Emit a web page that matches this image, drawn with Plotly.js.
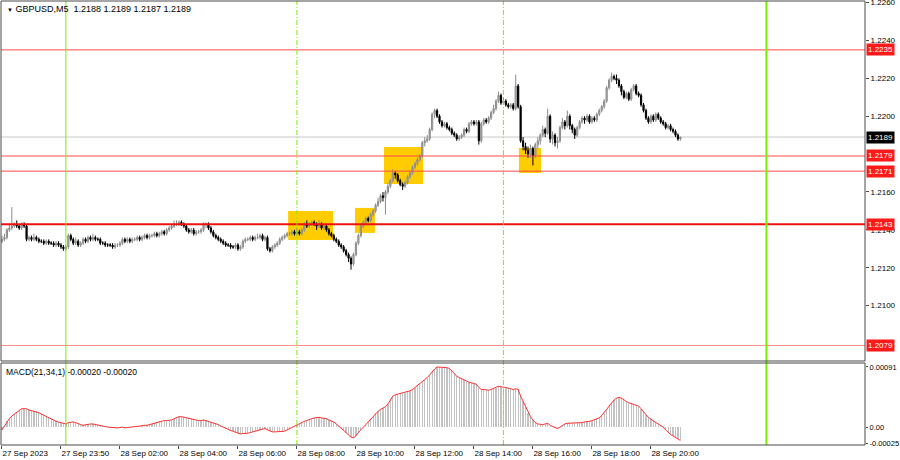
<!DOCTYPE html>
<html><head><meta charset="utf-8">
<script src="https://cdn.plot.ly/plotly-3.0.1.min.js"></script>
<style>html,body{margin:0;padding:0;background:#fff}#chart{width:900px;height:460px}</style>
</head><body><div id="chart"></div>
<script>
const symbol = 'GBPUSD,M5';

const openP = [
1.2134,1.2135,1.2136,1.2140,1.2141,1.2142,1.2143,1.2142,1.2141,1.2143,
1.2142,1.2135,1.2136,1.2135,1.2136,1.2135,1.2134,1.2134,1.2133,1.2134,
1.2133,1.2133,1.2132,1.2133,1.2132,1.2131,1.2130,1.2131,1.2137,1.2135,
1.2133,1.2134,1.2132,1.2133,1.2135,1.2134,1.2136,1.2135,1.2136,1.2135,
1.2135,1.2133,1.2133,1.2132,1.2132,1.2132,1.2131,1.2132,1.2132,1.2133,
1.2135,1.2134,1.2135,1.2134,1.2135,1.2135,1.2136,1.2135,1.2136,1.2137,
1.2136,1.2137,1.2137,1.2138,1.2137,1.2138,1.2139,1.2138,1.2140,1.2141,
1.2142,1.2143,1.2143,1.2144,1.2143,1.2142,1.2140,1.2139,1.2140,1.2138,
1.2139,1.2139,1.2140,1.2143,1.2143,1.2141,1.2139,1.2137,1.2136,1.2135,
1.2134,1.2133,1.2132,1.2132,1.2131,1.2131,1.2132,1.2130,1.2131,1.2134,
1.2135,1.2135,1.2136,1.2135,1.2136,1.2136,1.2137,1.2135,1.2136,1.2130,
1.2129,1.2131,1.2132,1.2133,1.2135,1.2136,1.2137,1.2138,1.2138,1.2139,
1.2138,1.2139,1.2138,1.2140,1.2143,1.2142,1.2143,1.2144,1.2143,1.2142,
1.2143,1.2141,1.2142,1.2140,1.2138,1.2137,1.2135,1.2134,1.2132,1.2131,
1.2129,1.2127,1.2125,1.2122,1.2127,1.2133,1.2137,1.2142,1.2144,1.2146,
1.2145,1.2148,1.2150,1.2153,1.2155,1.2158,1.2157,1.2160,1.2163,1.2166,
1.2170,1.2169,1.2166,1.2164,1.2163,1.2165,1.2168,1.2170,1.2173,1.2175,
1.2177,1.2179,1.2186,1.2187,1.2188,1.2193,1.2201,1.2203,1.2200,1.2197,
1.2195,1.2196,1.2194,1.2193,1.2191,1.2190,1.2188,1.2189,1.2190,1.2193,
1.2192,1.2196,1.2197,1.2196,1.2197,1.2187,1.2196,1.2198,1.2197,1.2199,
1.2202,1.2204,1.2208,1.2211,1.2207,1.2208,1.2206,1.2205,1.2206,1.2204,
1.2216,1.2205,1.2187,1.2184,1.2182,1.2180,1.2183,1.2179,1.2185,1.2187,
1.2190,1.2193,1.2191,1.2200,1.2188,1.2190,1.2186,1.2187,1.2194,1.2197,
1.2195,1.2200,1.2195,1.2193,1.2190,1.2194,1.2197,1.2199,1.2198,1.2200,
1.2197,1.2199,1.2198,1.2201,1.2203,1.2205,1.2208,1.2215,1.2219,1.2221,
1.2220,1.2219,1.2216,1.2213,1.2210,1.2212,1.2209,1.2214,1.2216,1.2212,
1.2211,1.2206,1.2203,1.2199,1.2197,1.2200,1.2198,1.2201,1.2199,1.2197,
1.2196,1.2194,1.2195,1.2193,1.2192,1.2190,1.2188];

const highP = [
1.2137,1.2138,1.2141,1.2143,1.2152,1.2144,1.2145,1.2143,1.2144,1.2144,
1.2143,1.2137,1.2137,1.2138,1.2137,1.2136,1.2135,1.2135,1.2135,1.2135,
1.2134,1.2134,1.2134,1.2134,1.2133,1.2132,1.2132,1.2138,1.2138,1.2136,
1.2136,1.2135,1.2134,1.2136,1.2136,1.2137,1.2137,1.2138,1.2137,1.2136,
1.2136,1.2134,1.2134,1.2133,1.2133,1.2133,1.2133,1.2133,1.2134,1.2136,
1.2136,1.2136,1.2136,1.2136,1.2136,1.2137,1.2137,1.2137,1.2138,1.2138,
1.2138,1.2138,1.2139,1.2139,1.2139,1.2140,1.2140,1.2141,1.2142,1.2143,
1.2145,1.2145,1.2145,1.2145,1.2144,1.2143,1.2141,1.2141,1.2141,1.2140,
1.2140,1.2141,1.2144,1.2144,1.2144,1.2142,1.2140,1.2138,1.2137,1.2136,
1.2135,1.2134,1.2133,1.2133,1.2132,1.2133,1.2133,1.2132,1.2135,1.2136,
1.2136,1.2137,1.2137,1.2137,1.2138,1.2138,1.2138,1.2137,1.2137,1.2131,
1.2132,1.2133,1.2134,1.2136,1.2137,1.2138,1.2139,1.2139,1.2140,1.2140,
1.2141,1.2140,1.2141,1.2144,1.2145,1.2144,1.2145,1.2145,1.2144,1.2145,
1.2144,1.2143,1.2143,1.2141,1.2139,1.2138,1.2136,1.2135,1.2133,1.2132,
1.2130,1.2128,1.2126,1.2128,1.2134,1.2138,1.2143,1.2145,1.2147,1.2147,
1.2149,1.2151,1.2154,1.2157,1.2159,1.2160,1.2161,1.2165,1.2167,1.2172,
1.2171,1.2170,1.2167,1.2165,1.2166,1.2169,1.2171,1.2174,1.2176,1.2178,
1.2180,1.2187,1.2189,1.2190,1.2194,1.2202,1.2204,1.2204,1.2201,1.2198,
1.2197,1.2197,1.2195,1.2194,1.2192,1.2191,1.2190,1.2191,1.2194,1.2194,
1.2197,1.2198,1.2198,1.2198,1.2198,1.2197,1.2199,1.2199,1.2200,1.2203,
1.2206,1.2209,1.2213,1.2212,1.2210,1.2209,1.2207,1.2207,1.2207,1.2222,
1.2217,1.2206,1.2189,1.2186,1.2184,1.2185,1.2184,1.2186,1.2189,1.2191,
1.2195,1.2194,1.2204,1.2201,1.2192,1.2191,1.2189,1.2195,1.2199,1.2198,
1.2203,1.2201,1.2196,1.2194,1.2195,1.2198,1.2200,1.2200,1.2201,1.2201,
1.2200,1.2200,1.2202,1.2204,1.2206,1.2209,1.2216,1.2220,1.2223,1.2222,
1.2222,1.2220,1.2217,1.2214,1.2213,1.2213,1.2215,1.2217,1.2217,1.2213,
1.2212,1.2207,1.2204,1.2200,1.2201,1.2201,1.2202,1.2202,1.2200,1.2198,
1.2197,1.2196,1.2196,1.2194,1.2193,1.2191,1.2189];

const lowP = [
1.2133,1.2134,1.2135,1.2139,1.2140,1.2141,1.2141,1.2140,1.2140,1.2141,
1.2134,1.2134,1.2134,1.2134,1.2134,1.2133,1.2133,1.2132,1.2132,1.2132,
1.2132,1.2131,1.2131,1.2131,1.2130,1.2129,1.2129,1.2130,1.2134,1.2132,
1.2132,1.2131,1.2131,1.2132,1.2133,1.2133,1.2134,1.2134,1.2134,1.2134,
1.2132,1.2132,1.2131,1.2131,1.2131,1.2130,1.2130,1.2131,1.2131,1.2132,
1.2133,1.2133,1.2133,1.2133,1.2134,1.2134,1.2134,1.2134,1.2135,1.2135,
1.2135,1.2136,1.2136,1.2136,1.2136,1.2137,1.2137,1.2137,1.2139,1.2140,
1.2141,1.2142,1.2142,1.2142,1.2141,1.2139,1.2138,1.2138,1.2137,1.2137,
1.2138,1.2138,1.2139,1.2141,1.2140,1.2138,1.2136,1.2135,1.2134,1.2133,
1.2132,1.2131,1.2131,1.2130,1.2130,1.2130,1.2129,1.2129,1.2130,1.2133,
1.2134,1.2134,1.2134,1.2134,1.2135,1.2135,1.2134,1.2134,1.2129,1.2128,
1.2128,1.2130,1.2131,1.2132,1.2134,1.2135,1.2136,1.2137,1.2137,1.2137,
1.2137,1.2137,1.2137,1.2139,1.2141,1.2141,1.2142,1.2142,1.2140,1.2141,
1.2140,1.2140,1.2139,1.2137,1.2136,1.2134,1.2133,1.2131,1.2130,1.2128,
1.2126,1.2123,1.2119,1.2121,1.2126,1.2132,1.2136,1.2141,1.2143,1.2144,
1.2144,1.2147,1.2149,1.2152,1.2154,1.2155,1.2148,1.2159,1.2162,1.2165,
1.2167,1.2165,1.2163,1.2161,1.2162,1.2164,1.2167,1.2169,1.2172,1.2174,
1.2176,1.2178,1.2184,1.2186,1.2187,1.2192,1.2199,1.2199,1.2196,1.2194,
1.2194,1.2193,1.2192,1.2190,1.2189,1.2187,1.2187,1.2188,1.2189,1.2191,
1.2191,1.2195,1.2195,1.2195,1.2185,1.2186,1.2195,1.2196,1.2196,1.2198,
1.2201,1.2203,1.2207,1.2206,1.2206,1.2205,1.2204,1.2204,1.2203,1.2203,
1.2204,1.2186,1.2182,1.2180,1.2178,1.2178,1.2174,1.2178,1.2183,1.2185,
1.2189,1.2189,1.2190,1.2186,1.2185,1.2184,1.2183,1.2186,1.2193,1.2193,
1.2194,1.2193,1.2191,1.2188,1.2189,1.2193,1.2196,1.2196,1.2197,1.2196,
1.2196,1.2197,1.2197,1.2200,1.2202,1.2204,1.2207,1.2214,1.2218,1.2219,
1.2217,1.2215,1.2211,1.2209,1.2209,1.2208,1.2208,1.2213,1.2211,1.2210,
1.2205,1.2202,1.2198,1.2196,1.2196,1.2197,1.2197,1.2198,1.2196,1.2195,
1.2193,1.2193,1.2192,1.2191,1.2189,1.2187,1.2187];

const closeP = [
1.2135,1.2136,1.2140,1.2141,1.2142,1.2143,1.2142,1.2141,1.2143,1.2142,
1.2135,1.2136,1.2135,1.2136,1.2135,1.2134,1.2134,1.2133,1.2134,1.2133,
1.2133,1.2132,1.2133,1.2132,1.2131,1.2130,1.2131,1.2137,1.2135,1.2133,
1.2134,1.2132,1.2133,1.2135,1.2134,1.2136,1.2135,1.2136,1.2135,1.2135,
1.2133,1.2133,1.2132,1.2132,1.2132,1.2131,1.2132,1.2132,1.2133,1.2135,
1.2134,1.2135,1.2134,1.2135,1.2135,1.2136,1.2135,1.2136,1.2137,1.2136,
1.2137,1.2137,1.2138,1.2137,1.2138,1.2139,1.2138,1.2140,1.2141,1.2142,
1.2143,1.2143,1.2144,1.2143,1.2142,1.2140,1.2139,1.2140,1.2138,1.2139,
1.2139,1.2140,1.2143,1.2143,1.2141,1.2139,1.2137,1.2136,1.2135,1.2134,
1.2133,1.2132,1.2132,1.2131,1.2131,1.2132,1.2130,1.2131,1.2134,1.2135,
1.2135,1.2136,1.2135,1.2136,1.2136,1.2137,1.2135,1.2136,1.2130,1.2129,
1.2131,1.2132,1.2133,1.2135,1.2136,1.2137,1.2138,1.2138,1.2139,1.2138,
1.2139,1.2138,1.2140,1.2143,1.2142,1.2143,1.2144,1.2143,1.2142,1.2143,
1.2141,1.2142,1.2140,1.2138,1.2137,1.2135,1.2134,1.2132,1.2131,1.2129,
1.2127,1.2125,1.2122,1.2127,1.2133,1.2137,1.2142,1.2144,1.2146,1.2145,
1.2148,1.2150,1.2153,1.2155,1.2158,1.2157,1.2160,1.2163,1.2166,1.2170,
1.2169,1.2166,1.2164,1.2163,1.2165,1.2168,1.2170,1.2173,1.2175,1.2177,
1.2179,1.2186,1.2187,1.2188,1.2193,1.2201,1.2203,1.2200,1.2197,1.2195,
1.2196,1.2194,1.2193,1.2191,1.2190,1.2188,1.2189,1.2190,1.2193,1.2192,
1.2196,1.2197,1.2196,1.2197,1.2187,1.2196,1.2198,1.2197,1.2199,1.2202,
1.2204,1.2208,1.2211,1.2207,1.2208,1.2206,1.2205,1.2206,1.2204,1.2216,
1.2205,1.2187,1.2184,1.2182,1.2180,1.2183,1.2179,1.2185,1.2187,1.2190,
1.2193,1.2191,1.2200,1.2188,1.2190,1.2186,1.2187,1.2194,1.2197,1.2195,
1.2200,1.2195,1.2193,1.2190,1.2194,1.2197,1.2199,1.2198,1.2200,1.2197,
1.2199,1.2198,1.2201,1.2203,1.2205,1.2208,1.2215,1.2219,1.2221,1.2220,
1.2219,1.2216,1.2213,1.2210,1.2212,1.2209,1.2214,1.2216,1.2212,1.2211,
1.2206,1.2203,1.2199,1.2197,1.2200,1.2198,1.2201,1.2199,1.2197,1.2196,
1.2194,1.2195,1.2193,1.2192,1.2190,1.2188,1.2189];

const macd = [
-0.00004,0.00002,0.00009,0.00013,0.00017,0.00020,0.00023,0.00026,0.00028,0.00028,
0.00028,0.00026,0.00025,0.00024,0.00024,0.00022,0.00020,0.00018,0.00016,0.00014,
0.00012,0.00010,0.00009,0.00008,0.00007,0.00006,0.00005,0.00007,0.00008,0.00008,
0.00007,0.00005,0.00004,0.00003,0.00004,0.00005,0.00005,0.00005,0.00004,0.00003,
0.00003,0.00002,0.00001,0.000002,-0.000003,-0.00001,-0.00001,-0.00001,-0.000004,0.000002,
-0.00001,-0.000003,0.000002,0.000004,0.00001,0.00001,0.00002,0.00002,0.00003,0.00003,
0.00004,0.00005,0.00007,0.00008,0.00009,0.00009,0.00010,0.00010,0.00010,0.00011,
0.00013,0.00015,0.00016,0.00016,0.00015,0.00014,0.00013,0.00012,0.00011,0.00011,
0.00010,0.00010,0.00011,0.00010,0.00009,0.00008,0.00007,0.00006,0.00004,0.00002,
0.000003,-0.00002,-0.00004,-0.00005,-0.00006,-0.00008,-0.00009,-0.00010,-0.00010,-0.00010,
-0.00009,-0.00008,-0.00007,-0.00006,-0.00005,-0.00004,-0.00003,-0.00002,-0.00004,-0.00006,
-0.00007,-0.00007,-0.00007,-0.00007,-0.00007,-0.00006,-0.00004,-0.00002,-0.000003,0.00001,
0.00003,0.00005,0.00007,0.00009,0.00010,0.00012,0.00013,0.00014,0.00015,0.00015,
0.00014,0.00014,0.00013,0.00011,0.00010,0.00008,0.00005,0.00002,-0.00001,-0.00004,
-0.00008,-0.00012,-0.00015,-0.00016,-0.00013,-0.00008,-0.00004,0.000003,0.00004,0.00008,
0.00012,0.00017,0.00021,0.00024,0.00027,0.00029,0.00031,0.00035,0.00041,0.00047,
0.00049,0.00050,0.00051,0.00051,0.00052,0.00053,0.00055,0.00057,0.00060,0.00062,
0.00065,0.00069,0.00072,0.00075,0.00079,0.00084,0.00088,0.00091,0.00091,0.00090,
0.00090,0.00090,0.00089,0.00085,0.00080,0.00077,0.00075,0.00073,0.00071,0.00069,
0.00068,0.00067,0.00066,0.00065,0.00060,0.00057,0.00057,0.00056,0.00056,0.00057,
0.00059,0.00060,0.00062,0.00061,0.00061,0.00060,0.00059,0.00058,0.00057,0.00058,
0.00057,0.00047,0.00039,0.00031,0.00022,0.00016,0.00011,0.00007,0.00005,0.00004,
0.00004,0.00005,0.00006,0.00003,0.00001,-0.00001,-0.00002,0.000002,0.00003,0.00005,
0.00006,0.00006,0.00007,0.00006,0.00006,0.00006,0.00007,0.00008,0.00008,0.00009,
0.00010,0.00011,0.00012,0.00014,0.00018,0.00022,0.00027,0.00032,0.00037,0.00041,
0.00044,0.00045,0.00044,0.00041,0.00039,0.00037,0.00036,0.00035,0.00033,0.00032,
0.00028,0.00023,0.00019,0.00015,0.00012,0.00009,0.00007,0.00005,0.00003,0.000003,
-0.00004,-0.00008,-0.00011,-0.00013,-0.00015,-0.00018,-0.00020];

const timeTickBars = [0,24,48,72,96,120,144,168,192,216,240,264];
const timeTickText = ['27 Sep 2023','27 Sep 23:50','28 Sep 02:00','28 Sep 04:00','28 Sep 06:00','28 Sep 08:00',
  '28 Sep 10:00','28 Sep 12:00','28 Sep 14:00','28 Sep 16:00','28 Sep 18:00','28 Sep 20:00'];
const priceTicks = [1.2260,1.2240,1.2220,1.2200,1.2160,1.2140,1.2120,1.2100];
const macdTicks = [0.00091, 0, -0.00025];
const macdTickText = ['0.00091','0.00','-0.00025'];
const levels = [1.2235, 1.2179, 1.2171, 1.2143, 1.2079];
const levelColors = ['#ff4a4a','#ff4a4a','#ff4a4a','#ee1111','#ff8c8c'];
const levelWidths = [1,1,1,2,1];
const currentPrice = 1.2189;
const sessionBars = [26, 120, 204, 311];
const sessionDash = ['solid','5px,2px,1px,2px','5px,2px,1px,2px','solid'];
const sessionWidth = [1,1,1,2];
// signal boxes: [barStart, barEnd, priceLow, priceHigh]
const boxes = [[116.4,134.7,1.21347,1.21500],[143.6,151.7,1.21384,1.21516],[155.4,171.3,1.21642,1.21838],[210.3,219.3,1.21700,1.21832]];

const FONT = 'Liberation Sans, Arial, sans-serif';
const idx = closeP.map((_, i) => i);
const last = closeP.length - 1;
const mainDom = [0.18919, 1];
const macdDom = [0, 0.18468];

const traces = [
  {type:'candlestick', x: idx, open: openP, high: highP, low: lowP, close: closeP,
   xaxis:'x', yaxis:'y', whiskerwidth:0, hoverinfo:'skip',
   increasing:{line:{color:'#8c8c8c', width:1}, fillcolor:'#b8b8b8'},
   decreasing:{line:{color:'#000000', width:1}, fillcolor:'#000000'}},
  {type:'bar', x: idx, y: macd, xaxis:'x', yaxis:'y2', width:0.5,
   marker:{color:'#c2c2c2', line:{width:0}}, hoverinfo:'skip'},
  {type:'scatter', mode:'lines', x: idx, y: macd, xaxis:'x', yaxis:'y2',
   line:{color:'#ff3030', width:1}, hoverinfo:'skip'}
];

const shapes = [];
boxes.forEach(b => shapes.push({type:'rect', xref:'x', yref:'y', x0:b[0], x1:b[1], y0:b[2], y1:b[3],
  fillcolor:'#ffcc00', line:{width:0}, layer:'below'}));
shapes.push({type:'line', xref:'paper', yref:'y', x0:0, x1:1, y0:currentPrice, y1:currentPrice,
  line:{color:'#c8c8c8', width:1}, layer:'below'});
levels.forEach((lv, k) => shapes.push({type:'line', xref:'paper', yref:'y', x0:0, x1:1, y0:lv, y1:lv,
  line:{color:levelColors[k], width:levelWidths[k]}}));
sessionBars.forEach((sb, k) => shapes.push({type:'line', xref:'x', yref:'paper', x0:sb, x1:sb, y0:0, y1:1,
  line:{color:'#78f000', width:sessionWidth[k], dash:sessionDash[k]}}));
shapes.push({type:'rect', xref:'paper', yref:'paper', x0:0, x1:1, y0:mainDom[0], y1:mainDom[1],
  line:{color:'#4a4a4a', width:1}});
shapes.push({type:'rect', xref:'paper', yref:'paper', x0:0, x1:1, y0:macdDom[0], y1:macdDom[1],
  line:{color:'#4a4a4a', width:1}});

const annotations = [];
levels.forEach(lv => annotations.push({xref:'paper', yref:'y', x:1, y:lv, xanchor:'left', yanchor:'middle', xshift:1,
  text: lv.toFixed(4), showarrow:false, bgcolor:'#ff1a1a', borderpad:1,
  font:{family:FONT, size:8, color:'#ffffff'}}));
annotations.push({xref:'paper', yref:'y', x:1, y:currentPrice, xanchor:'left', yanchor:'middle', xshift:1,
  text: currentPrice.toFixed(4), showarrow:false, bgcolor:'#000000', borderpad:1,
  font:{family:FONT, size:8, color:'#ffffff'}});
annotations.push({xref:'paper', yref:'paper', x:0, y:1, xanchor:'left', yanchor:'top', xshift:4, yshift:-1,
  text: '<span style="font-size:6px">▼</span> ' + symbol + '  ' + [openP[last], highP[last], lowP[last], closeP[last]].map(v => v.toFixed(4)).join(' '),
  showarrow:false, font:{family:FONT, size:9, color:'#000000'}});
annotations.push({xref:'paper', yref:'paper', x:0, y:macdDom[1], xanchor:'left', yanchor:'top', xshift:3, yshift:-2,
  text: 'MACD(21,34,1) ' + macd[last].toFixed(5) + ' ' + macd[last].toFixed(5),
  showarrow:false, font:{family:FONT, size:8.5, color:'#000000'}});

const layout = {
  width:900, height:460, margin:{l:1, r:35, t:1, b:15},
  paper_bgcolor:'#ffffff', plot_bgcolor:'#ffffff', showlegend:false,
  font:{family:FONT, size:8, color:'#000000'},
  xaxis:{domain:[0,1], anchor:'y2', range:[-0.4, 351.1], tickmode:'array', tickvals: timeTickBars, ticktext: timeTickText,
    ticks:'outside', ticklen:3, tickcolor:'#4a4a4a', ticklabelposition:'outside right',
    tickfont:{family:FONT, size:8, color:'#000'}, showgrid:false, zeroline:false, showline:false,
    rangeslider:{visible:false}, fixedrange:true},
  yaxis:{domain: mainDom, anchor:'x', side:'right', range:[1.20708, 1.22608], tickmode:'array', tickvals: priceTicks,
    ticktext: priceTicks.map(v => v.toFixed(4)), ticks:'outside', ticklen:3, tickcolor:'#4a4a4a',
    ticklabeloverflow:'allow',
    tickfont:{family:FONT, size:8, color:'#000'}, showgrid:false, zeroline:false, showline:false, fixedrange:true},
  yaxis2:{domain: macdDom, anchor:'x', side:'right', range:[-0.000268, 0.00097], tickmode:'array', tickvals: macdTicks,
    ticktext: macdTickText, ticks:'outside', ticklen:2, tickcolor:'#4a4a4a', ticklabeloverflow:'allow',
    tickfont:{family:FONT, size:7.5, color:'#000'}, showgrid:false, zeroline:false, showline:false, fixedrange:true},
  shapes, annotations, bargap:0
};

Plotly.newPlot('chart', traces, layout, {displayModeBar:false, staticPlot:true});
</script>
</body></html>
